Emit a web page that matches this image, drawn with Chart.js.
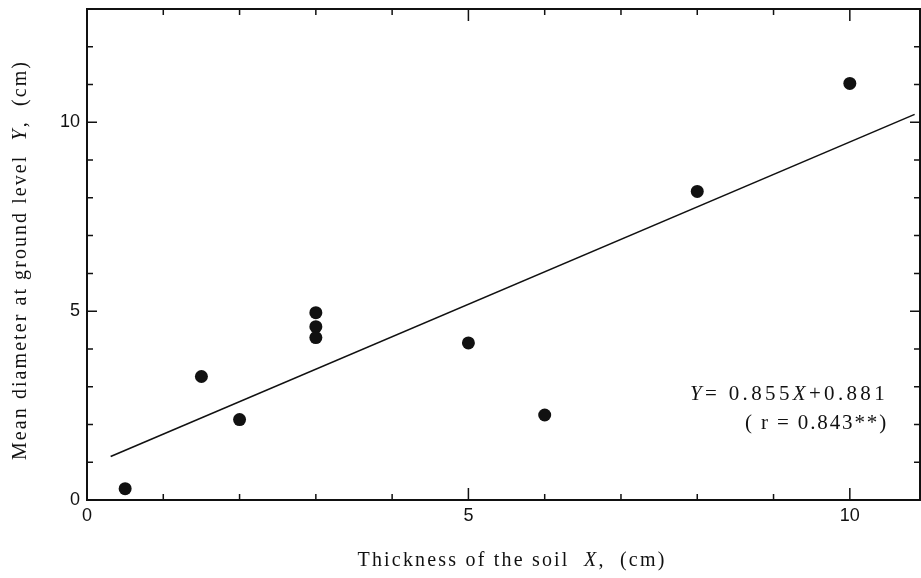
<!DOCTYPE html>
<html>
<head>
<meta charset="utf-8">
<script src="https://cdn.jsdelivr.net/npm/chart.js@4"></script>
<style>
  html, body { margin: 0; padding: 0; background: #fff; }
  #wrap { width: 921px; height: 578px; }
</style>
</head>
<body>
<div id="wrap"><canvas id="soil-chart" width="921" height="578"></canvas></div>
<script>
// measured points (thickness of soil X, mean diameter Y)
const soilX = [0.5, 1.5, 2, 3, 3, 3, 5, 6, 8, 10];
const diamY = [0.3, 3.27, 2.13, 4.96, 4.59, 4.3, 4.16, 2.25, 8.17, 11.03];

// regression line end points as drawn
const lineX = [0.31, 10.85];
const lineY = [1.15, 10.21];

const xTickLabels = [0, 5, 10];
const yTickLabels = [0, 5, 10];

const xTitle = [["Thickness of the soil  ", false], ["X", true], [",  (cm)", false]];
const yTitle = [["Mean diameter at ground level  ", false], ["Y", true], [",  (cm)", false]];
const eqLine1 = [["Y", true], ["= 0.855", false], ["X", true], ["+0.881", false]];
const eqLine2 = [["( r = 0.843**)", false]];

const serif = '"Liberation Serif", "DejaVu Serif", serif';

function partsFont(size, italic) {
    return (italic ? 'italic ' : '') + size + 'px ' + serif;
}

// draws mixed italic text stretched to a target width
function drawParts(ctx, parts, x, y, size, width, align) {
    ctx.letterSpacing = '0px';
    let w0 = 0, n = 0;
    parts.forEach(p => {
        ctx.font = partsFont(size, p[1]);
        w0 += ctx.measureText(p[0]).width;
        n += p[0].length;
    });
    const sp = Math.max(0, (width - w0) / n);
    let cx = align === 'center' ? x - width / 2 : (align === 'right' ? x - width : x);
    ctx.textBaseline = 'middle';
    ctx.textAlign = 'left';
    ctx.fillStyle = '#111';
    parts.forEach(p => {
        ctx.font = partsFont(size, p[1]);
        ctx.letterSpacing = sp + 'px';
        ctx.fillText(p[0], cx, y);
        cx += ctx.measureText(p[0]).width;
    });
    ctx.letterSpacing = '0px';
}

const framePlugin = {
    id: 'frame',
    afterDatasetsDraw(chart) {
        const ctx = chart.ctx;
        const a = chart.chartArea;
        const xs = chart.scales.x, ys = chart.scales.y;
        ctx.save();
        ctx.strokeStyle = '#111';
        ctx.lineWidth = 2;
        ctx.strokeRect(a.left, a.top, a.right - a.left, a.bottom - a.top);

        ctx.lineWidth = 1.5;
        ctx.beginPath();
        xs.ticks.forEach(t => {
            const px = xs.getPixelForValue(t.value);
            const len = t.value % 5 === 0 ? 12 : 6;
            ctx.moveTo(px, a.bottom); ctx.lineTo(px, a.bottom - len);
            ctx.moveTo(px, a.top); ctx.lineTo(px, a.top + len);
        });
        ys.ticks.forEach(t => {
            const py = ys.getPixelForValue(t.value);
            const len = t.value % 5 === 0 ? 10 : 6;
            ctx.moveTo(a.left, py); ctx.lineTo(a.left + len, py);
            ctx.moveTo(a.right, py); ctx.lineTo(a.right - len, py);
        });
        ctx.stroke();

        // axis titles
        drawParts(ctx, xTitle, 512, 561, 20, 309, 'center');
        ctx.save();
        ctx.translate(21, 260);
        ctx.rotate(-Math.PI / 2);
        drawParts(ctx, yTitle, 0, 0, 20, 400, 'center');
        ctx.restore();

        // regression equation
        drawParts(ctx, eqLine1, 888, 394, 21, 198, 'right');
        drawParts(ctx, eqLine2, 888, 423, 21, 143, 'right');
        ctx.restore();
    }
};

const points = soilX.map((x, i) => ({ x: x, y: diamY[i] }));
const fitLine = lineX.map((x, i) => ({ x: x, y: lineY[i] }));

const config = {
    type: 'scatter',
    data: {
        datasets: [
            {
                data: points,
                pointRadius: 6.5,
                pointHoverRadius: 6.5,
                backgroundColor: '#111',
                borderColor: '#111',
                borderWidth: 0,
            },
            {
                data: fitLine,
                showLine: true,
                pointRadius: 0,
                borderColor: '#111',
                borderWidth: 1.6,
            }
        ]
    },
    options: {
        responsive: false,
        animation: false,
        layout: { autoPadding: false, padding: { top: 9, right: 1, left: 0, bottom: 0 } },
        plugins: {
            legend: { display: false },
            tooltip: { enabled: false }
        },
        scales: {
            x: {
                type: 'linear',
                min: 0,
                max: 10.92,
                grid: { display: false, drawTicks: false },
                border: { display: false },
                afterFit(scale) {
                    scale.height = 78;
                    scale.paddingLeft = 0;
                    scale.paddingRight = 0;
                },
                afterBuildTicks(scale) {
                    scale.ticks = [0, 1, 2, 3, 4, 5, 6, 7, 8, 9, 10].map(v => ({ value: v }));
                },
                ticks: {
                    autoSkip: false,
                    maxRotation: 0,
                    padding: 5,
                    color: '#111',
                    font: { family: '"Liberation Sans", Arial, sans-serif', size: 18 },
                    callback: v => xTickLabels.includes(v) ? String(v) : ''
                }
            },
            y: {
                type: 'linear',
                min: 0,
                max: 13,
                grid: { display: false, drawTicks: false },
                border: { display: false },
                afterFit(scale) {
                    scale.width = 87;
                    scale.paddingTop = 0;
                    scale.paddingBottom = 0;
                },
                ticks: {
                    stepSize: 1,
                    autoSkip: false,
                    padding: 7,
                    color: '#111',
                    font: { family: '"Liberation Sans", Arial, sans-serif', size: 18 },
                    callback: v => yTickLabels.includes(v) ? String(v) : ''
                }
            }
        }
    },
    plugins: [framePlugin]
};

const soilChart = new Chart(document.getElementById('soil-chart'), config);
</script>
</body>
</html>
